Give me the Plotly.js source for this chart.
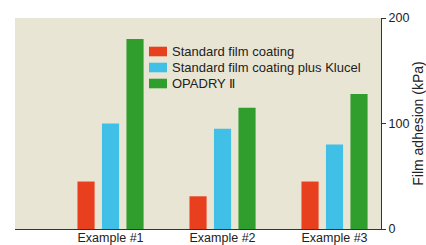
<!DOCTYPE html>
<html><head><meta charset="utf-8">
<script src="https://cdn.plot.ly/plotly-3.0.1.min.js"></script>
<style>html,body{margin:0;padding:0;background:#fff}#chart{width:426px;height:245px}</style>
</head><body><div id="chart"></div>
<script>
var categories = ["Example #1", "Example #2", "Example #3"];
var seriesNames = ["Standard film coating", "Standard film coating plus Klucel", "OPADRY Ⅱ"];
var standardCoating = [45, 31, 45];
var klucelCoating = [100, 95, 80];
var opadryII = [180, 115, 128];
var yTicks = [0, 100, 200];
var yTitle = "Film adhesion (kPa)";

var colors = ["#e8401e", "#40c0e6", "#2f9e2c"];
var values = [standardCoating, klucelCoating, opadryII];
var traces = values.map(function(v, i){
  return {type:"bar", x:categories, y:v, name:seriesNames[i], marker:{color:colors[i]}, showlegend:false};
});

// manual legend (pixel layout converted to paper coords)
var M = {l:15, r:45, t:18, b:16}, W = 426, H = 245;
var pw = W - M.l - M.r, ph = H - M.t - M.b;
function px(x){ return (x - M.l) / pw; }
function py(y){ return (H - M.b - y) / ph; }
var shapes = [], annotations = [];
seriesNames.forEach(function(name, i){
  var cy = 51.5 + 16 * i;
  shapes.push({type:"rect", xref:"paper", yref:"paper", x0:px(149), x1:px(167),
               y0:py(cy + 4.8), y1:py(cy - 4.8), fillcolor:colors[i], line:{width:0}});
  annotations.push({xref:"paper", yref:"paper", x:px(170), y:py(cy), xanchor:"left", yanchor:"middle",
                    text:name, showarrow:false, font:{size:13, color:"#222"}});
});

var layout = {
  width:W, height:H,
  margin:M,
  paper_bgcolor:"#ffffff", plot_bgcolor:"#e9e5d4",
  font:{family:"Liberation Sans, Arial, sans-serif", size:12, color:"#222"},
  barmode:"group", bargap:0.344, bargroupgap:0.3,
  xaxis:{type:"category", range:[-0.853, 2.415], showline:true, linecolor:"#333", linewidth:1,
         ticks:"", tickfont:{size:12.5}, ticklabelstandoff:-3, showgrid:false, zeroline:false, fixedrange:true},
  yaxis:{side:"right", range:[0,200], tickvals:yTicks, ticks:"outside", ticklen:4, tickcolor:"#333",
         showline:true, linecolor:"#333", linewidth:1, showgrid:false, zeroline:false,
         tickfont:{size:12.5}, title:{text:yTitle, font:{size:14}, standoff:6}},
  shapes:shapes, annotations:annotations,
  showlegend:false
};
Plotly.newPlot("chart", traces, layout, {staticPlot:true});
</script></body></html>
